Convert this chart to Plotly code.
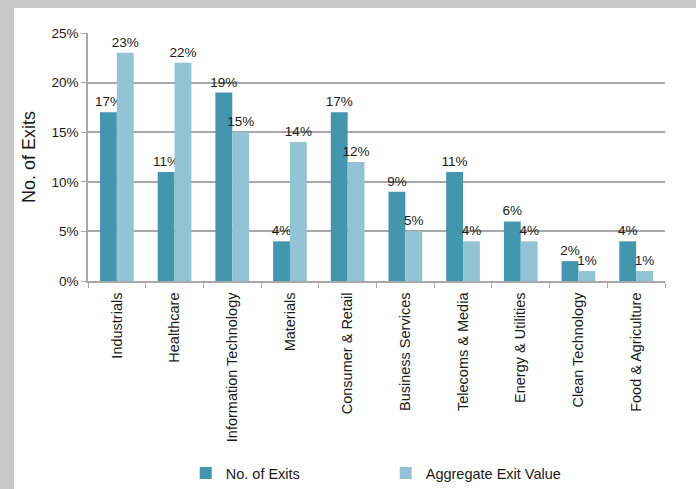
import plotly.graph_objects as go

categories = ["Industrials", "Healthcare", "Information Technology", "Materials",
              "Consumer & Retail", "Business Services", "Telecoms & Media",
              "Energy & Utilities", "Clean Technology", "Food & Agriculture"]
no_of_exits = [17, 11, 19, 4, 17, 9, 11, 6, 2, 4]
aggregate_exit_value = [23, 22, 15, 14, 12, 5, 4, 4, 1, 1]
y_ticks = [0, 5, 10, 15, 20, 25]
y_tick_labels = [f"{v}%" for v in y_ticks]

FONT = "Liberation Sans, Arial, sans-serif"
DARK = "#4297AE"
LIGHT = "#93C4D6"
TXT = "#1a1a1a"

fig = go.Figure()
fig.add_trace(go.Bar(
    x=categories, y=no_of_exits, name="No. of Exits",
    marker=dict(color=DARK, line=dict(width=0)),
    text=[f"{v}%" for v in no_of_exits], texttemplate="%{text}",
    textposition="outside", constraintext="none",
    cliponaxis=False, textfont=dict(family=FONT, size=13.5, color=TXT),
))
fig.add_trace(go.Bar(
    x=categories, y=aggregate_exit_value, name="Aggregate Exit Value",
    marker=dict(color=LIGHT, line=dict(width=0)),
    text=[f"{v}%" for v in aggregate_exit_value], texttemplate="%{text}",
    textposition="outside", constraintext="none",
    cliponaxis=False, textfont=dict(family=FONT, size=13.5, color=TXT),
))

# plot area pixel geometry
L, R, T, B = 88, 665, 33, 281
W, H = 696, 489
pw, ph = R - L, B - T

fig.add_shape(type="rect", xref="paper", yref="paper", layer="below",
              x0=(14 - L) / pw, x1=(W + 5 - L) / pw,
              y0=(B - (H + 5)) / ph, y1=(B - 8) / ph,
              fillcolor="white", line=dict(width=0))

fig.update_layout(
    width=W, height=H,
    margin=dict(l=L, r=W - R, t=T, b=H - B, autoexpand=False),
    paper_bgcolor="#C8C8C8", plot_bgcolor="white",
    barmode="group", bargap=0.416, bargroupgap=0,
    font=dict(family=FONT, size=13.5, color=TXT),
    showlegend=True,
    legend=dict(orientation="h", x=0.516, xanchor="center",
                y=(B - 473) / ph, yanchor="middle",
                font=dict(family=FONT, size=14.5, color=TXT),
                bgcolor="rgba(0,0,0,0)", entrywidth=155, itemwidth=30),
)
fig.update_yaxes(
    range=[0, 25], tickvals=y_ticks, ticktext=y_tick_labels,
    showgrid=True, gridcolor="#A8A8A8", gridwidth=1.5,
    showline=True, linecolor="#A8A8A8", linewidth=1.5,
    ticks="outside", ticklen=5, tickcolor="#A8A8A8",
    zeroline=False,
    title=dict(text="No. of Exits", font=dict(family=FONT, size=18, color=TXT), standoff=11),
    tickfont=dict(family=FONT, size=13.5, color=TXT),
)
fig.update_xaxes(
    showline=True, linecolor="#A8A8A8", linewidth=1.5,
    ticks="outside", ticklen=5, tickcolor="#A8A8A8", tickson="boundaries",
    tickangle=-90, tickfont=dict(family=FONT, size=14.5, color=TXT),
    ticklabelstandoff=4,
    showgrid=False,
)

fig.write_html("out.html", config={"displayModeBar": False},
               post_script="document.body.style.margin='0';document.body.style.overflow='hidden';")
